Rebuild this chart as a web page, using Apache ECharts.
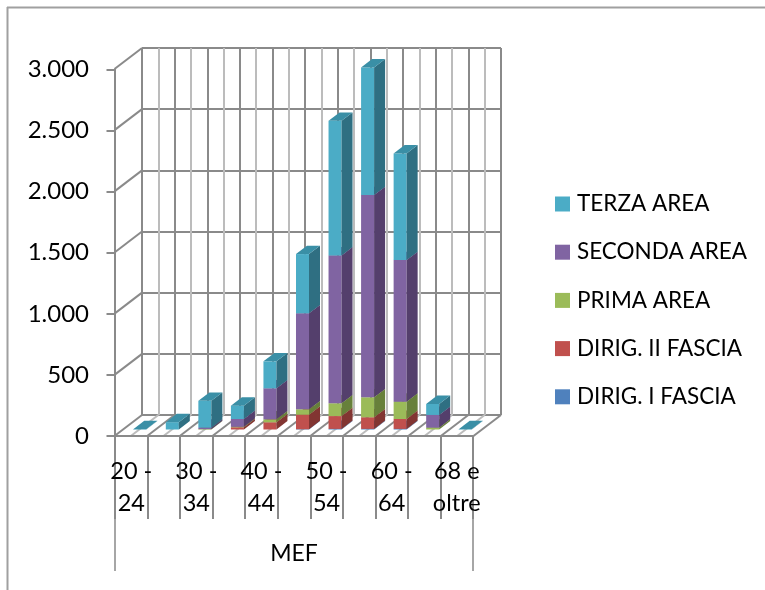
<!DOCTYPE html>
<html>
<head>
<meta charset="utf-8">
<style>html,body{margin:0;padding:0;background:#fff}#c{width:765px;height:590px}</style>
<script src="https://cdn.jsdelivr.net/npm/echarts@6/dist/echarts.min.js"></script>
</head>
<body>
<div id="c"></div>
<script>
const categories = ['20 - 24','25 - 29','30 - 34','35 - 39','40 - 44','45 - 49','50 - 54','55 - 59','60 - 64','65 - 67','68 e oltre'];
const groupLabels = ['MEF'];
const dirigI    = [0,0,0,0,0,2,5,5,5,0,0];
const dirigII   = [0,0,0,18,59,119,105,95,81,0,0];
const primaArea = [0,0,3,4,24,44,104,163,141,15,0];
const secondaArea = [0,0,12,64,254,786,1211,1656,1160,104,0];
const terzaArea = [3,60,220,109,221,485,1102,1045,873,90,3];
const wallTicks = [500,1000,1500,2000,2500,3000];
const floorTicks = [0,0.5,1,1.5,2,2.5,3,3.5,4,4.5,5,5.5,6,6.5,7,7.5,8,8.5,9,9.5,10,10.5,11];

const stackDefs = [
  {name:'DIRIG. I FASCIA', values:dirigI, front:'#4F81BD', side:'#345681', top:'#4272A8'},
  {name:'DIRIG. II FASCIA', values:dirigII, front:'#C0504D', side:'#823532', top:'#A84542'},
  {name:'PRIMA AREA', values:primaArea, front:'#9BBB59', side:'#67803A', top:'#88A54C'},
  {name:'SECONDA AREA', values:secondaArea, front:'#8064A2', side:'#543F6C', top:'#6E5590'},
  {name:'TERZA AREA', values:terzaArea, front:'#4BACC6', side:'#2F6F82', top:'#3A8FA6'}
];
const LINE='#8a8a8a', LIGHT='#bcbcbc', FONT='Lato', LW=2;
const WALL_DX=-27.5, WALL_DY=21;
const BAR_OFF_X=8.5, BAR_OFF_Y=-6.5, BAR_DX=11, BAR_DY=-8.4, BAR_FRAC=0.4;

const running = categories.map(()=>0);
const bandData = stackDefs.map(d => d.values.map((v,i)=>{
  const b = running[i]; running[i] += v; return [i,b,b+v];
}));

function barSeries(def, idx){
  return {
    type:'custom', name:def.name, xAxisIndex:0, yAxisIndex:0, z:5+idx, silent:true, clip:false,
    itemStyle:{color:def.front},
    data:bandData[idx], encode:{x:0,y:[1,2]},
    renderItem(params, api){
      const lo=api.value(1), hi=api.value(2);
      if(hi<=lo) return null;
      const c0=api.coord([api.value(0),lo]), c1=api.coord([api.value(0),hi]);
      const w=api.size([1,0])[0]*BAR_FRAC;
      const xl=c0[0]-w/2+BAR_OFF_X, xr=xl+w, yb=c0[1]+BAR_OFF_Y, yt=c1[1]+BAR_OFF_Y;
      const poly=(pts,fill)=>({type:'polygon',shape:{points:pts},style:{fill:fill,stroke:null}});
      return {type:'group',children:[
        poly([[xl,yb],[xr,yb],[xr,yt],[xl,yt]],def.front),
        poly([[xr,yb],[xr+BAR_DX,yb+BAR_DY],[xr+BAR_DX,yt+BAR_DY],[xr,yt]],def.side),
        poly([[xl,yt],[xr,yt],[xr+BAR_DX,yt+BAR_DY],[xl+BAR_DX,yt+BAR_DY]],def.top)
      ]};
    }
  };
}

const option = {
  animation:false,
  backgroundColor:'#fff',
  textStyle:{fontFamily:FONT},
  graphic:[
    {type:'line',shape:{x1:7,y1:7.5,x2:765,y2:7.5},style:{stroke:'#a0a0a0',lineWidth:2},silent:true},
    {type:'line',shape:{x1:7.5,y1:7,x2:7.5,y2:590},style:{stroke:'#a0a0a0',lineWidth:2},silent:true}
  ],
  legend:{
    orient:'vertical', left:555, top:190, padding:0, icon:'rect', itemWidth:15, itemHeight:15, itemGap:20.2,
    selectedMode:false,
    data:[...stackDefs].reverse().map(d=>d.name),
    textStyle:{fontFamily:FONT,fontSize:22.5,color:'#000',lineHeight:28,padding:[0,0,0,2]}
  },
  grid:[
    {left:115,top:69.5,width:358,height:366.5,containLabel:false},
    {left:142,top:48,width:359,height:367,containLabel:false}
  ],
  xAxis:[
    {gridIndex:0,type:'category',data:categories,position:'bottom',z:3,
     axisLine:{show:true,lineStyle:{color:LINE,width:LW}},
     axisTick:{show:true,length:83,alignWithLabel:false,interval:0,lineStyle:{color:LINE,width:LW}},
     axisLabel:{show:true,interval:(i)=>i%2===0,margin:19,fontFamily:FONT,fontSize:23.5,color:'#000',lineHeight:32,
       formatter:(v)=>{const k=v.lastIndexOf(' ');return v.slice(0,k)+'\n'+v.slice(k+1);}},
     splitLine:{show:false}},
    {gridIndex:0,type:'category',data:groupLabels,position:'bottom',z:2,
     axisLine:{show:false},
     axisTick:{show:true,length:135,alignWithLabel:false,lineStyle:{color:'#a6a6a6',width:LW}},
     axisLabel:{show:true,margin:106,fontFamily:FONT,fontSize:23,color:'#000'},
     splitLine:{show:false}},
    {gridIndex:1,type:'value',min:0,max:11,interval:1,position:'bottom',
     axisLine:{show:false},axisTick:{show:false},axisLabel:{show:false},
     splitLine:{show:true,lineStyle:{color:LINE,width:LW}},
     minorTick:{show:false,splitNumber:2},
     minorSplitLine:{show:true,lineStyle:{color:LIGHT,width:LW}}}
  ],
  yAxis:[
    {gridIndex:0,type:'value',min:0,max:3000,interval:500,position:'left',z:3,
     axisLine:{show:true,lineStyle:{color:LINE,width:LW}},
     axisTick:{show:true,length:8.5,lineStyle:{color:LINE,width:LW}},
     axisLabel:{show:true,margin:26,fontFamily:FONT,fontSize:24,color:'#000',
       formatter:(v)=>String(v).replace(/\B(?=(\d{3})+$)/g,'.')},
     splitLine:{show:false}},
    {gridIndex:1,type:'value',min:0,max:3000,interval:500,position:'left',
     axisLine:{show:false},axisTick:{show:false},axisLabel:{show:false},
     splitLine:{show:true,lineStyle:{color:LINE,width:LW}}}
  ],
  series:[
    {type:'custom',xAxisIndex:2,yAxisIndex:1,z:1,silent:true,clip:false,
     data:wallTicks.map(v=>[0,v]),encode:{x:0,y:1},
     renderItem(p,api){
       const c=api.coord([api.value(0),api.value(1)]);
       return {type:'line',shape:{x1:c[0],y1:c[1],x2:c[0]+WALL_DX,y2:c[1]+WALL_DY},style:{stroke:LINE,lineWidth:LW}};
     }},
    {type:'custom',xAxisIndex:2,yAxisIndex:1,z:1,silent:true,clip:false,
     data:floorTicks.map(v=>[v,0]),encode:{x:0,y:1},
     renderItem(p,api){
       const t=api.value(0), c=api.coord([t,0]);
       return {type:'line',shape:{x1:c[0],y1:c[1],x2:c[0]+WALL_DX,y2:c[1]+WALL_DY},
         style:{stroke:Number.isInteger(t)?LINE:LIGHT,lineWidth:LW}};
     }},
    ...stackDefs.map(barSeries)
  ]
};
const chart = echarts.init(document.getElementById('c'),null,{renderer:'canvas'});
chart.setOption(option);
</script>
</body>
</html>
